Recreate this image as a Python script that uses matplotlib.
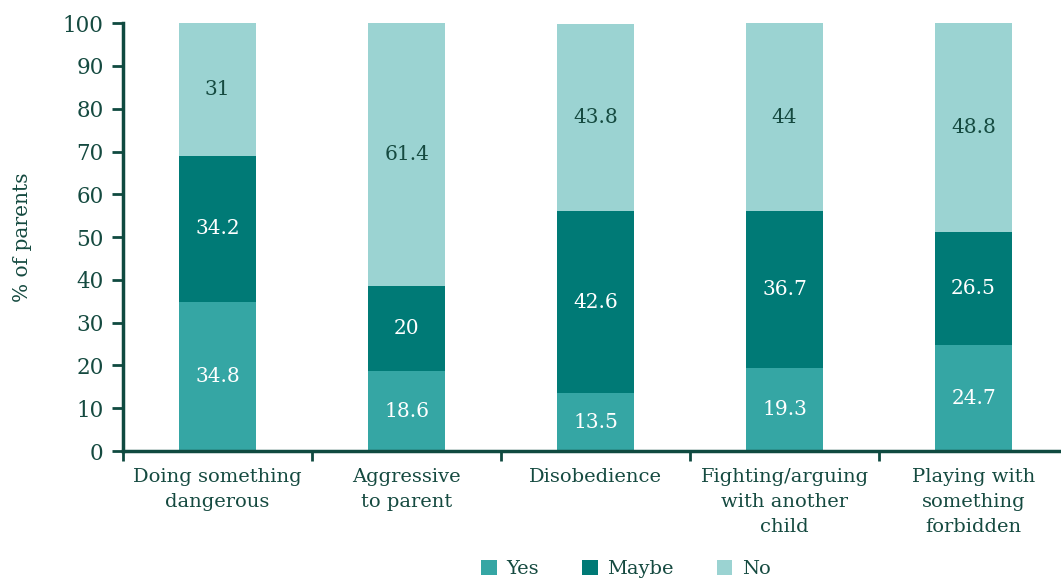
import numpy as np
import matplotlib
matplotlib.use("Agg")
import matplotlib.pyplot as plt

categories = ["Doing something\ndangerous", "Aggressive\nto parent", "Disobedience",
              "Fighting/arguing\nwith another\nchild", "Playing with\nsomething\nforbidden"]
yes = [34.8, 18.6, 13.5, 19.3, 24.7]
maybe = [34.2, 20, 42.6, 36.7, 26.5]
no = [31, 61.4, 43.8, 44, 48.8]
series_names = ["Yes", "Maybe", "No"]

c_yes = "#35a6a4"
c_maybe = "#007a76"
c_no = "#9bd3d2"
txt = "#154a40"
axc = "#0f4a40"

plt.rcParams['font.family'] = ['DejaVu Serif']

fig = plt.figure(figsize=(10.61, 5.80), dpi=100)
ax = fig.add_axes([0.116, 0.2224, 0.8907, 0.7376])

x = np.arange(len(categories))
w = 0.405
b1 = ax.bar(x, yes, w, color=c_yes, label=series_names[0])
b2 = ax.bar(x, maybe, w, bottom=yes, color=c_maybe, label=series_names[1])
bot3 = np.array(yes) + np.array(maybe)
b3 = ax.bar(x, no, w, bottom=bot3, color=c_no, label=series_names[2])

def fmt(v):
    return "%g" % v

for i in range(len(x)):
    ax.text(x[i], yes[i] / 2, fmt(yes[i]), ha="center", va="center", color="white", fontsize=14.5)
    ax.text(x[i], yes[i] + maybe[i] / 2, fmt(maybe[i]), ha="center", va="center", color="white", fontsize=14.5)
    ax.text(x[i], bot3[i] + no[i] / 2, fmt(no[i]), ha="center", va="center", color=txt, fontsize=14.5)

ax.set_xlim(-0.5, len(categories) - 0.5)
ax.set_ylim(0, 100)
ax.set_yticks(range(0, 101, 10))
ax.tick_params(axis="y", colors=axc, labelcolor=txt, labelsize=15.5, width=2, length=8, direction="out", pad=6)
ax.set_xticks(x)
ax.set_xticklabels(categories, fontsize=14, color=txt, linespacing=1.5)
ax.tick_params(axis="x", length=0, pad=12)
ax.set_xticks(np.arange(len(categories)) - 0.5, minor=True)
ax.tick_params(axis="x", which="minor", length=7, width=2, color=axc)

for s in ["top", "right"]:
    ax.spines[s].set_visible(False)
for s in ["left", "bottom"]:
    ax.spines[s].set_color(axc)
    ax.spines[s].set_linewidth(2.5)

ax.set_ylabel("% of parents", fontsize=14.5, color=txt, labelpad=22)

leg = fig.legend(handles=[b1, b2, b3], labels=series_names, loc="lower center",
                 bbox_to_anchor=(0.59, -0.027), ncol=3, frameon=False, fontsize=14,
                 handlelength=0.8, handleheight=0.8, columnspacing=2.2, handletextpad=0.5)
for t in leg.get_texts():
    t.set_color(txt)

fig.savefig("out.png", dpi=100)
